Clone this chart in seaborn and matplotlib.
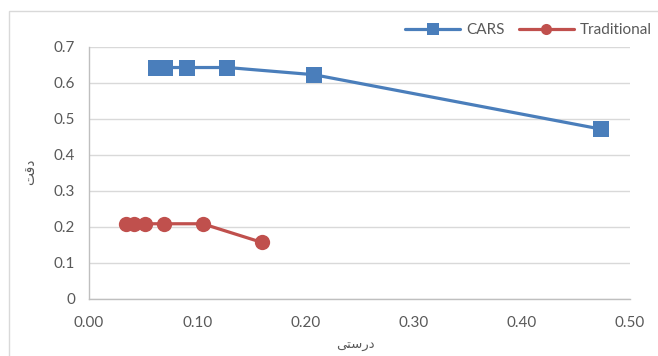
import matplotlib
matplotlib.use("Agg")
import matplotlib.pyplot as plt
import seaborn as sns
import pandas as pd
from matplotlib.patches import Rectangle
from matplotlib.ticker import FixedLocator, FuncFormatter
from matplotlib.lines import Line2D

# ---- data ----
cars_recall = [0.062, 0.070, 0.091, 0.128, 0.208, 0.473]
cars_precision = [0.643, 0.643, 0.643, 0.643, 0.623, 0.472]
trad_recall = [0.034, 0.042, 0.052, 0.069, 0.105, 0.160]
trad_precision = [0.209, 0.209, 0.209, 0.209, 0.209, 0.157]
series_names = ["CARS", "Traditional"]
x_ticks = [0.0, 0.1, 0.2, 0.3, 0.4, 0.5]
y_ticks = [0.0, 0.1, 0.2, 0.3, 0.4, 0.5, 0.6, 0.7]
# Persian labels (pre-shaped presentation forms, visual order)
x_label = "\uFBFD\uFE98\uFEB3\uFEAD\uFEA9"   # درستی
y_label = "\uFE96\uFED7\uFEA9"               # دقت

df = pd.concat([
    pd.DataFrame({"x": cars_recall, "y": cars_precision, "s": series_names[0], "o": range(6)}),
    pd.DataFrame({"x": trad_recall, "y": trad_precision, "s": series_names[1], "o": range(6)}),
])

sns.set_theme(style="white")
plt.rcParams["font.family"] = ["Lato", "DejaVu Sans"]

fig = plt.figure(figsize=(6.58, 3.56), dpi=100)
ax = fig.add_axes([89/658, 1-299/356, (630-89)/658, (299-47)/356])

blue = "#4A7EBB"
red = "#C0504D"
sns.lineplot(data=df, x="x", y="y", hue="s", style="s", sort=False,
             palette={"CARS": blue, "Traditional": red},
             markers={"CARS": "s", "Traditional": "o"}, dashes=False,
             markersize=11, markeredgewidth=0, linewidth=2.3, ax=ax, legend=False)

ax.set_xlim(0, 0.5)
ax.set_ylim(0, 0.7)
ax.xaxis.set_major_locator(FixedLocator(x_ticks))
ax.yaxis.set_major_locator(FixedLocator(y_ticks))
ax.xaxis.set_major_formatter(FuncFormatter(lambda v, p: f"{v:.2f}"))
ax.yaxis.set_major_formatter(FuncFormatter(lambda v, p: "0" if abs(v) < 1e-9 else f"{v:.1f}"))
ax.grid(axis="y", color="#D9D9D9", linewidth=1)
ax.set_axisbelow(True)
for sp in ["top", "right"]:
    ax.spines[sp].set_visible(False)
for sp in ["left", "bottom"]:
    ax.spines[sp].set_color("#BFBFBF")
    ax.spines[sp].set_linewidth(1)
ax.tick_params(axis="both", colors="#595959", labelsize=11, length=0, pad=10)
ax.tick_params(axis="x", pad=12)
ax.set_xlabel("")
ax.set_ylabel("")

fig.text(355/658, 1-345/356, x_label, ha="center", va="center",
         fontsize=9.5, color="#595959", family=["DejaVu Sans"])
fig.text(30/658, 1-172/356, y_label, ha="center", va="center", rotation=90,
         fontsize=10, color="#595959", family=["DejaVu Sans"])

handles = [
    Line2D([], [], color=blue, marker="s", markersize=8, linewidth=2.3, markeredgewidth=0),
    Line2D([], [], color=red, marker="o", markersize=8, linewidth=2.3, markeredgewidth=0),
]
fig.legend(handles, series_names, loc="center right", bbox_to_anchor=(1.0, 1-30/356),
           ncol=2, frameon=False, fontsize=11, handlelength=3.6, columnspacing=0.9,
           handletextpad=0.4, labelcolor="#595959", borderaxespad=0)

fig.patches.append(Rectangle((8.5/658, -0.1), 1.2, 1-10.5/356 + 0.1, transform=fig.transFigure,
                             fill=False, edgecolor="#D9D9D9", linewidth=1))

fig.savefig("out.png", dpi=100)
